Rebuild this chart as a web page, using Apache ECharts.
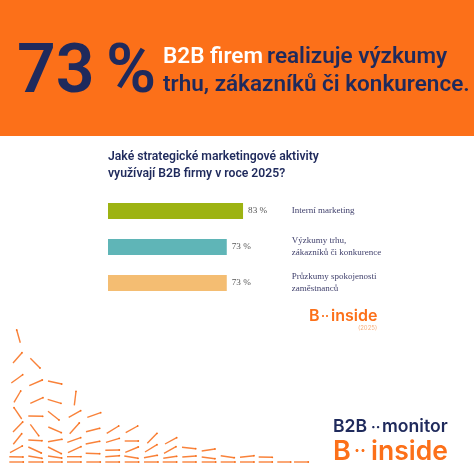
<!DOCTYPE html>
<html>
<head>
<meta charset="utf-8">
<style>
  html, body { margin: 0; padding: 0; background: #fff; }
  #chart { width: 474px; height: 474px; }
</style>
<script src="https://cdn.jsdelivr.net/npm/echarts@6/dist/echarts.min.js"></script>
</head>
<body>
<div id="chart"></div>
<script>
var categories = ['Interní marketing', 'Výzkumy trhu,\nzákazníků či konkurence', 'Průzkumy spokojenosti\nzaměstnanců'];
var values = [83, 73, 73];
var barColors = ['#9db312', '#5fb5b7', '#f4bd72'];

// decorative arrows: x1, y1, x2, y2
var arrows = [
  [20.3,342.7,16.7,330],[13,363,22,352.7],[11.3,383,22.7,374.7],[14,402.3,20.7,391],[21.7,419,14,407.7],
  [13,432,22.7,422],[13.3,444.3,21.7,433.7],[10,452.7,22.3,446],[9.3,456.7,23,457],[9.3,462,23.3,462],
  [30.3,358.3,40,368],[29.3,385.7,42.3,380],[30.3,403.3,43,397.7],[28.3,416,42.7,416.3],[30.3,424.3,38.7,435.7],
  [28.3,440,42,440.7],[28.3,447,41.3,453],[28.3,456,42,458.3],[28.3,462,42.7,462],
  [48,381,61.7,384],[47.7,399.3,61,403.3],[48,411.3,59,420],[48.3,427,61.3,432.7],[48,441.7,62,439.3],
  [48,447,61.3,453.7],[48,456,61.7,458],[48,462,62,462],
  [74.3,405.3,76,391.3],[68.7,417.3,80.7,410.7],[69.7,433.7,79.3,423],[67.3,442.3,80.7,437.7],[68,452.7,81,446.7],
  [67,456.7,81,456.7],[67,462,81,462],
  [87.3,417.3,100.7,412.7],[86,431.7,99.7,428.3],[85.7,444,99.7,441.3],[85.7,453.3,99.7,453.7],[86.3,462,100.3,462],
  [106.7,433.3,118.7,426],[106,442.3,119.3,438.3],[105.3,450.3,119.3,450],[105.3,456.7,119.3,455.7],[105.3,462,119.3,462],
  [125.7,432.7,137.7,426],[124.7,441,138.3,441],[125.3,452.3,138.3,447],[124.3,456,138,458.3],[124.7,462,138.7,462],
  [147.3,443.3,157,433.3],[145,452,157,444.7],[144,457.7,157.3,455.3],[144,462,158,462],
  [165,444,176.7,437.7],[164,453.3,176,446.7],[163.3,458.3,176.7,456.3],[162.7,462,176.7,462],
  [182,447.3,195.7,448.7],[182.3,457,196,456],[182.3,462,196,462],
  [201.7,451,215,449],[201.7,457,215,458.7],[201.7,462,215.7,462],
  [220.7,455.7,234.3,457.7],[220.7,462,235,462],
  [240,457.3,254,455.7],[240,462,254,462],
  [258.7,457,272.3,457.3],[258.7,462,272.3,462],
  [277.3,462,290.7,462],[294,462,308.3,462]
];

var ORANGE = '#fc7019';
var NAVY = '#1f2a5c';
var SANS = 'Inter, sans-serif';
var HEAD = 'Roboto, sans-serif';
var SERIF = '"Liberation Serif", serif';

function txt(x, y, text, size, weight, color, family) {
  return {
    type: 'text', x: x, y: y, z: 10,
    style: { text: text, fontSize: size, fontWeight: weight, fill: color, fontFamily: family || SANS, textVerticalAlign: 'middle' }
  };
}

var chart = echarts.init(document.getElementById('chart'), null, { renderer: 'canvas' });
chart.setOption({
  animation: false,
  backgroundColor: '#fff',
  grid: [
    { left: 108, top: 193, width: 162.7, height: 108 },
    { left: 0, top: 0, width: 474, height: 474 }
  ],
  xAxis: [
    { gridIndex: 0, type: 'value', min: 0, max: 100, show: false },
    { gridIndex: 1, type: 'value', min: 0, max: 474, show: false }
  ],
  yAxis: [
    {
      gridIndex: 0, type: 'category', data: categories, inverse: true, position: 'right',
      axisLine: { show: false }, axisTick: { show: false },
      axisLabel: { margin: 21, align: 'left', fontSize: 9, lineHeight: 12, color: '#3f3f6b', fontFamily: SERIF }
    },
    { gridIndex: 1, type: 'value', min: 0, max: 474, inverse: true, show: false }
  ],
  graphic: [
    { type: 'rect', z: -1, shape: { x: 0, y: 0, width: 474, height: 136 }, style: { fill: ORANGE } },
    txt(17, 75, '73', 68, 600, NAVY, HEAD),
    txt(106, 75, '%', 68, 600, NAVY, HEAD),
    txt(163, 57, 'B2B firem', 22.5, 600, '#fff', HEAD),
    txt(267, 57, 'realizuje výzkumy', 22.5, 600, NAVY, HEAD),
    txt(163, 85, 'trhu, zákazníků či konkurence.', 22.5, 600, NAVY, HEAD),
    txt(108, 157, 'Jaké strategické marketingové aktivity', 12.2, 600, NAVY, HEAD),
    txt(108, 174, 'využívají B2B firmy v roce 2025?', 12.2, 600, NAVY, HEAD),
    txt(309, 316, 'B', 16, 600, ORANGE),
    txt(321, 316, '··', 12, 700, ORANGE),
    txt(331, 316, 'inside', 16, 600, ORANGE),
    txt(358, 328, '(2025)', 6, 400, '#f8b07e'),
    txt(333, 427, 'B2B', 17.6, 600, NAVY),
    txt(371, 428, '··', 14, 700, NAVY),
    txt(382, 427, 'monitor', 17.6, 600, NAVY),
    txt(333, 452, 'B', 27, 600, ORANGE),
    txt(354, 452, '··', 18, 700, ORANGE),
    txt(371, 452, 'inside', 26.5, 600, ORANGE)
  ],
  series: [
    {
      type: 'bar', xAxisIndex: 0, yAxisIndex: 0, barWidth: 16, silent: true,
      data: values.map(function (v, i) { return { value: v, itemStyle: { color: barColors[i] } }; }),
      label: { show: true, position: 'right', distance: 5, formatter: '{c} %', fontSize: 9.2, color: '#555', fontFamily: SERIF }
    },
    {
      type: 'custom', xAxisIndex: 1, yAxisIndex: 1, silent: true, clip: false,
      data: arrows,
      encode: { x: [0, 2], y: [1, 3] },
      renderItem: function (params, api) {
        var a = api.coord([api.value(0), api.value(1)]);
        var b = api.coord([api.value(2), api.value(3)]);
        return {
          type: 'group',
          children: [
            { type: 'line', shape: { x1: a[0], y1: a[1], x2: b[0], y2: b[1] }, style: { stroke: '#f9823a', lineWidth: 1.4 } },
            { type: 'circle', shape: { cx: b[0], cy: b[1], r: 0.9 }, style: { fill: '#f8701c' } }
          ]
        };
      }
    }
  ]
});
window.addEventListener('resize', function () { chart.resize(); });
</script>
</body>
</html>
